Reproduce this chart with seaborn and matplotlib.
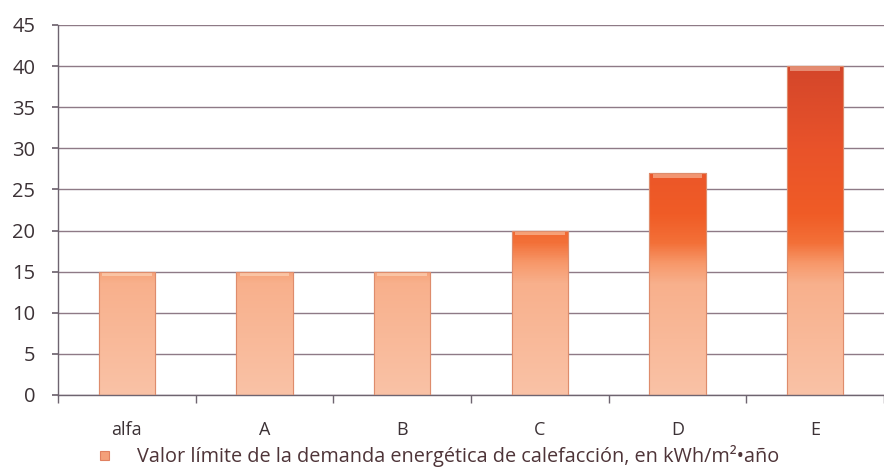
import numpy as np
import pandas as pd
import seaborn as sns
import matplotlib
matplotlib.use("Agg")
import matplotlib.pyplot as plt
from matplotlib.colors import LinearSegmentedColormap, Normalize
from matplotlib.patches import Rectangle

# data
categories = ["alfa", "A", "B", "C", "D", "E"]
values = [15, 15, 15, 20, 27, 40]
legend_label = "Valor límite de la demanda energética de calefacción, en kWh/m²•año"

df = pd.DataFrame({"clase": categories, "valor": values})

sns.set_theme(style="white")
plt.rcParams["font.family"] = ["Open Sans", "DejaVu Sans"]

W, H = 884, 468
fig = plt.figure(figsize=(W / 100, H / 100), dpi=100)
ax = fig.add_axes([58 / W, 73 / H, 826 / W, 370 / H])

sns.barplot(data=df, x="clase", y="valor", width=0.41, color="#F8B392",
            edgecolor="#E09878", linewidth=0.8, ax=ax, zorder=2)

# vertical gradient mapped to the value (light salmon -> orange -> red)
grad_cmap = LinearSegmentedColormap.from_list("calef", [
    (0.0, "#FAC2A6"),
    (13.5 / 40, "#F8B08C"),
    (16 / 40, "#F7986A"),
    (18.5 / 40, "#F37038"),
    (22 / 40, "#F05C26"),
    (30 / 40, "#E9532A"),
    (1.0, "#D4462A"),
])
grad = np.linspace(0, 40, 400).reshape(-1, 1)
for p in ax.patches:
    x0, w, h = p.get_x(), p.get_width(), p.get_height()
    g = grad[grad[:, 0] <= h].reshape(-1, 1)
    im = ax.imshow(g, extent=[x0, x0 + w, 0, h], origin="lower", cmap=grad_cmap,
                   norm=Normalize(0, 40), aspect="auto", zorder=2.5)
    im.set_clip_path(p)
    # light cap at the top of each bar
    ax.add_patch(Rectangle((x0 + w * 0.06, h - 0.55), w * 0.88, 0.45,
                           facecolor="#FFF4E0", alpha=0.4, lw=0, zorder=3))
    ax.add_patch(Rectangle((x0, 0), w, h, facecolor="none",
                           edgecolor="#DE8C6C", lw=0.8, zorder=3.5))

ax.set_xlim(-0.5, 5.36)
ax.set_ylim(0, 45)
ax.set_yticks(range(0, 46, 5))
ax.yaxis.grid(True, color="#8E7A86", lw=1)
ax.set_axisbelow(True)

for s in ["top", "right"]:
    ax.spines[s].set_visible(False)
for s in ["left", "bottom"]:
    ax.spines[s].set_color("#6E6470")
    ax.spines[s].set_linewidth(1)

ax.set_xticks(np.arange(-0.5, 6, 1), minor=True)
ax.tick_params(axis="x", which="major", length=0, pad=19, labelsize=13, labelcolor="#3C3236")
ax.tick_params(axis="x", which="minor", length=6, color="#6E6470", direction="out", bottom=True)
ax.tick_params(axis="y", length=4.3, color="#6E6470", direction="out", left=True,
               labelsize=14.5, labelcolor="#3C3236", pad=12)
ax.set_xlabel("")
ax.set_ylabel("")

# legend drawn in figure pixels
fig.patches.append(Rectangle((100 / W, (H - 460) / H), 9 / W, 9 / H, transform=fig.transFigure,
                             facecolor="#F4A07A", edgecolor="#E08060", lw=0.8))
fig.text(137 / W, (H - 456) / H, legend_label, ha="left", va="center",
         fontsize=14.3, color="#4E3438")

fig.savefig("out.png", dpi=100)
